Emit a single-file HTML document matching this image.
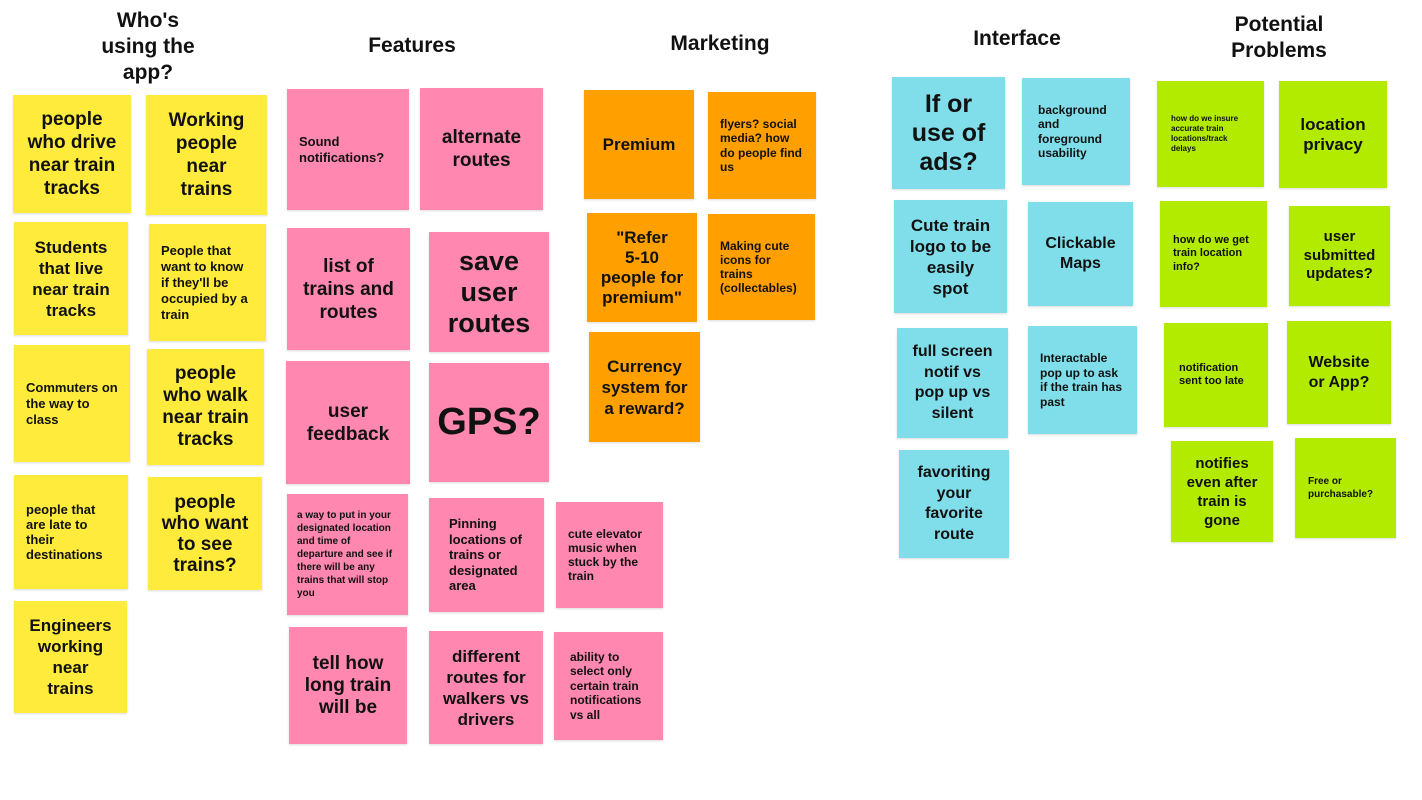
<!DOCTYPE html>
<html><head><meta charset="utf-8"><style>
body{margin:0;width:1422px;height:800px;background:#fff;position:relative;overflow:hidden;font-family:"Liberation Sans",Arial,sans-serif;color:#111}
.h{position:absolute;font-weight:bold;font-size:21px;text-align:center;line-height:26px;transform:translateX(-50%);white-space:nowrap}
.s{position:absolute;box-sizing:border-box;display:flex;align-items:center;justify-content:center;text-align:center;font-weight:bold;padding:6px;box-shadow:0 1px 2px rgba(0,0,0,.15)}
.l{justify-content:flex-start;text-align:left;padding:8px 12px}
.y{background:#ffeb3b}.p{background:#ff87b0}.o{background:#ffa000}.c{background:#80deea}.g{background:#b2eb00}
</style></head><body>
<div class="h" style="left:148px;top:8px">Who's<br>using the<br>app?</div>
<div class="h" style="left:412px;top:33px">Features</div>
<div class="h" style="left:720px;top:31px">Marketing</div>
<div class="h" style="left:1017px;top:26px">Interface</div>
<div class="h" style="left:1279px;top:12px">Potential<br>Problems</div>

<div class="s y" style="left:13px;top:95px;width:118px;height:118px;font-size:19px;line-height:23px;padding:0">people<br>who drive<br>near train<br>tracks</div>
<div class="s y" style="left:146px;top:95px;width:121px;height:120px;font-size:19px;line-height:23px;padding:0">Working<br>people<br>near<br>trains</div>
<div class="s y" style="left:14px;top:222px;width:114px;height:113px;font-size:17px;line-height:21px">Students that live near train tracks</div>
<div class="s y l" style="left:149px;top:224px;width:117px;height:117px;font-size:13px;line-height:16px">People that want to know if they'll be occupied by a train</div>
<div class="s y l" style="left:14px;top:345px;width:116px;height:117px;font-size:13px;line-height:16px">Commuters on the way to class</div>
<div class="s y" style="left:147px;top:349px;width:117px;height:116px;font-size:19px;line-height:22px;padding:0">people<br>who walk<br>near train<br>tracks</div>
<div class="s y l" style="left:14px;top:475px;width:114px;height:114px;font-size:13px;line-height:15px">people that are late to their destinations</div>
<div class="s y" style="left:148px;top:477px;width:114px;height:113px;font-size:19px;line-height:21px;padding:0">people<br>who want<br>to see<br>trains?</div>
<div class="s y" style="left:14px;top:601px;width:113px;height:112px;font-size:17px;line-height:21px;padding:0">Engineers<br>working<br>near<br>trains</div>

<div class="s p l" style="left:287px;top:89px;width:122px;height:121px;font-size:13px;line-height:16px">Sound notifications?</div>
<div class="s p" style="left:420px;top:88px;width:123px;height:122px;font-size:19px;line-height:23px">alternate routes</div>
<div class="s p" style="left:287px;top:228px;width:123px;height:122px;font-size:19px;line-height:23px;padding:0">list of<br>trains and<br>routes</div>
<div class="s p" style="left:429px;top:232px;width:120px;height:120px;font-size:27px;line-height:31px">save user routes</div>
<div class="s p" style="left:286px;top:361px;width:124px;height:123px;font-size:19px;line-height:23px">user feedback</div>
<div class="s p" style="left:429px;top:363px;width:120px;height:119px;font-size:38px">GPS?</div>
<div class="s p l" style="left:287px;top:494px;width:121px;height:121px;font-size:10px;line-height:13px;padding:8px 10px">a way to put in your designated location and time of departure and see if there will be any trains that will stop you</div>
<div class="s p l" style="left:429px;top:498px;width:115px;height:114px;font-size:13px;line-height:15.5px;padding:8px 20px">Pinning locations of trains or designated area</div>
<div class="s p l" style="left:556px;top:502px;width:107px;height:106px;font-size:12px;line-height:14px">cute elevator music when stuck by the train</div>
<div class="s p" style="left:289px;top:627px;width:118px;height:117px;font-size:19px;line-height:22px">tell how long train will be</div>
<div class="s p" style="left:429px;top:631px;width:114px;height:113px;font-size:17px;line-height:21px">different routes for walkers vs drivers</div>
<div class="s p l" style="left:554px;top:632px;width:109px;height:108px;font-size:12px;line-height:14.5px;padding:8px 16px">ability to select only certain train notifications vs all</div>

<div class="s o" style="left:584px;top:90px;width:110px;height:109px;font-size:17px">Premium</div>
<div class="s o l" style="left:708px;top:92px;width:108px;height:107px;font-size:12px;line-height:14.5px">flyers? social media? how do people find us</div>
<div class="s o" style="left:587px;top:213px;width:110px;height:109px;font-size:17px;line-height:20px;padding:0">"Refer<br>5-10<br>people for<br>premium"</div>
<div class="s o l" style="left:708px;top:214px;width:107px;height:106px;font-size:12px;line-height:14px">Making cute icons for trains (collectables)</div>
<div class="s o" style="left:589px;top:332px;width:111px;height:110px;font-size:17px;line-height:21px">Currency system for a reward?</div>

<div class="s c" style="left:892px;top:77px;width:113px;height:112px;font-size:25px;line-height:29px;padding:0">If or<br>use of<br>ads?</div>
<div class="s c l" style="left:1022px;top:78px;width:108px;height:107px;font-size:12px;line-height:14.5px;padding:8px 16px">background and foreground usability</div>
<div class="s c" style="left:894px;top:200px;width:113px;height:113px;font-size:17px;line-height:21px;padding:0">Cute train<br>logo to be<br>easily<br>spot</div>
<div class="s c" style="left:1028px;top:202px;width:105px;height:104px;font-size:16px;line-height:20px">Clickable Maps</div>
<div class="s c" style="left:897px;top:328px;width:111px;height:110px;font-size:16px;line-height:20.5px;padding:0">full screen<br>notif vs<br>pop up vs<br>silent</div>
<div class="s c l" style="left:1028px;top:326px;width:109px;height:108px;font-size:12px;line-height:14.5px">Interactable pop up to ask if the train has past</div>
<div class="s c" style="left:899px;top:450px;width:110px;height:108px;font-size:16px;line-height:20.5px;padding:0">favoriting<br>your<br>favorite<br>route</div>

<div class="s g l" style="left:1157px;top:81px;width:107px;height:106px;font-size:8px;line-height:10px;padding:8px 14px">how do we insure accurate train locations/track delays</div>
<div class="s g" style="left:1279px;top:81px;width:108px;height:107px;font-size:17px;line-height:20px">location privacy</div>
<div class="s g l" style="left:1160px;top:201px;width:107px;height:106px;font-size:11px;line-height:13.5px;padding:8px 13px">how do we get train location info?</div>
<div class="s g" style="left:1289px;top:206px;width:101px;height:100px;font-size:15px;line-height:18.5px">user submitted updates?</div>
<div class="s g l" style="left:1164px;top:323px;width:104px;height:104px;font-size:11px;line-height:13.5px;padding:8px 15px">notification sent too late</div>
<div class="s g" style="left:1287px;top:321px;width:104px;height:103px;font-size:16px;line-height:20px;padding:0">Website<br>or App?</div>
<div class="s g" style="left:1171px;top:441px;width:102px;height:101px;font-size:15px;line-height:19px;padding:0">notifies<br>even after<br>train is<br>gone</div>
<div class="s g l" style="left:1295px;top:438px;width:101px;height:100px;font-size:10px;line-height:13px;padding:8px 13px">Free or purchasable?</div>
</body></html>
